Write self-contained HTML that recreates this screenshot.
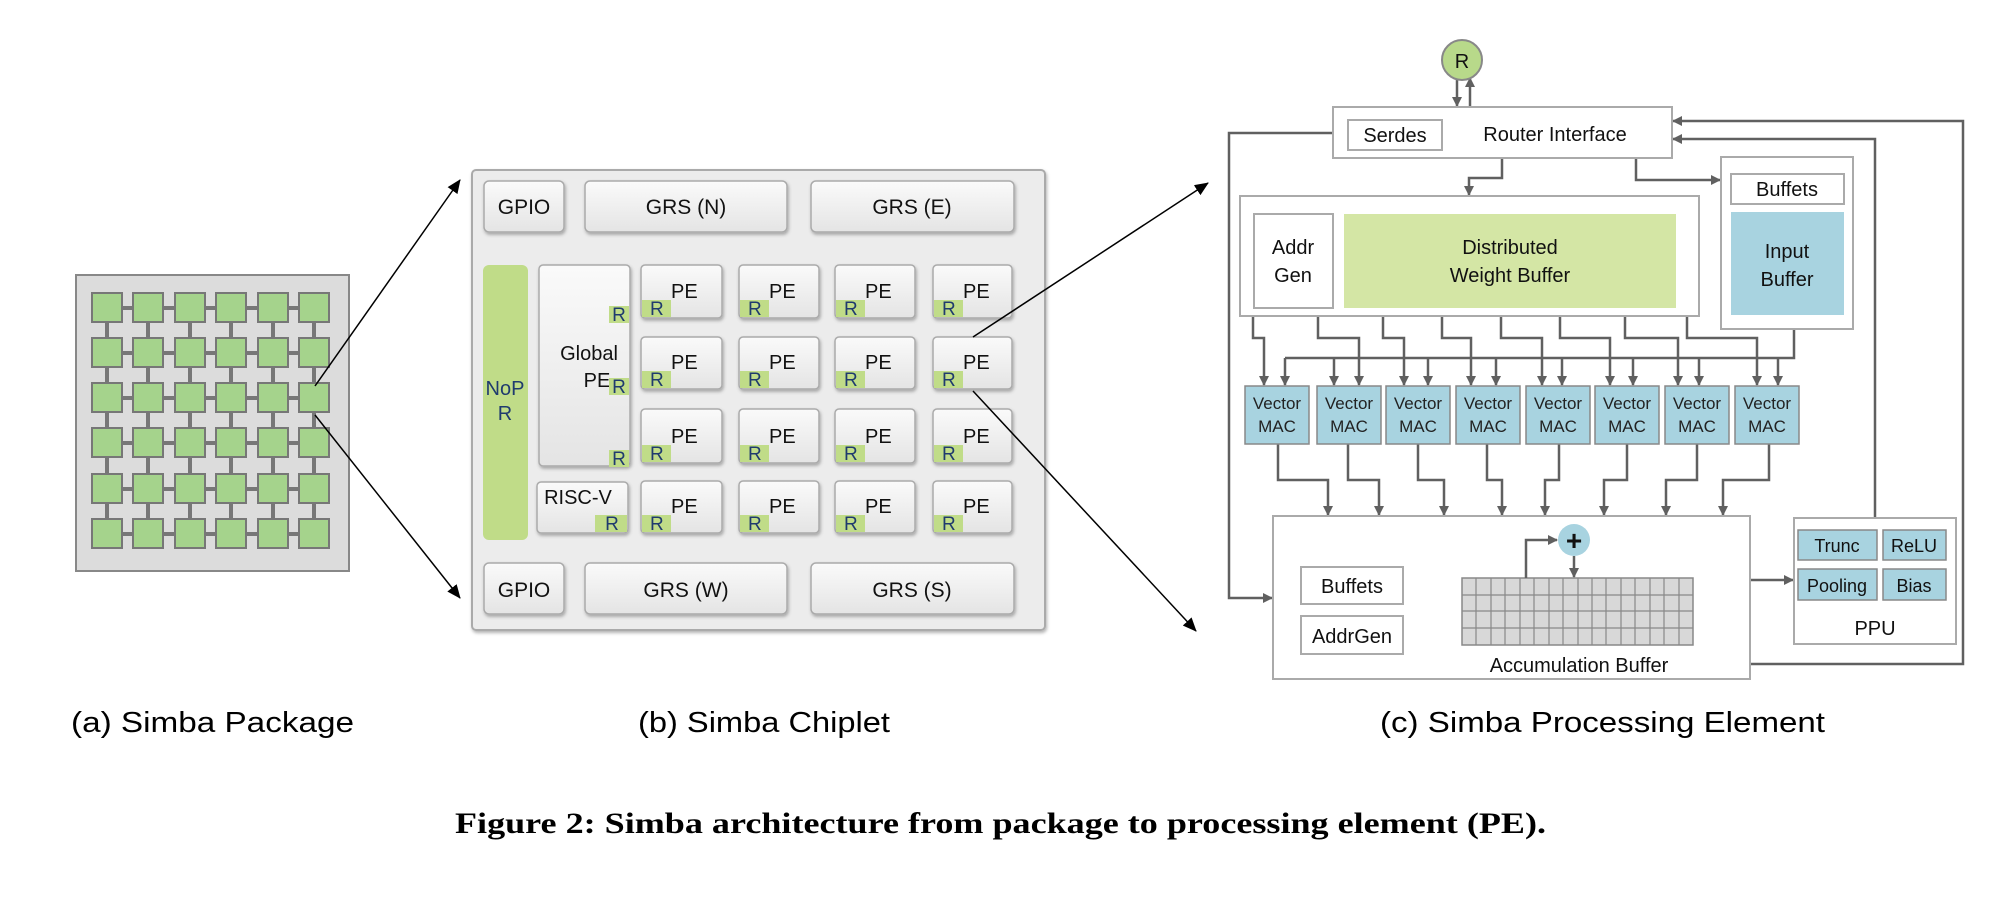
<!DOCTYPE html>
<html><head><meta charset="utf-8"><style>
html,body{margin:0;padding:0;background:#fff;width:2010px;height:900px;overflow:hidden}
svg{display:block}
text{font-family:"Liberation Sans",sans-serif}
</style></head><body>
<svg width="2010" height="900" viewBox="0 0 2010 900" xmlns="http://www.w3.org/2000/svg">
<defs>
<marker id="a" markerWidth="10" markerHeight="10" refX="9" refY="5" orient="auto" markerUnits="userSpaceOnUse"><path d="M0,0 L10,5 L0,10 z" fill="#606060"/></marker>
<marker id="b" markerWidth="14" markerHeight="12" refX="13" refY="6" orient="auto" markerUnits="userSpaceOnUse"><path d="M0,0 L14,6 L0,12 z" fill="#000"/></marker>
<linearGradient id="g" x1="0" y1="0" x2="0" y2="1"><stop offset="0" stop-color="#fafafa"/><stop offset="1" stop-color="#e4e4e4"/></linearGradient>
<filter id="sh" x="-10%" y="-10%" width="130%" height="140%"><feDropShadow dx="1" dy="2" stdDeviation="1.5" flood-color="#000" flood-opacity="0.3"/></filter>
</defs>

<!-- (a) package -->
<rect x="76" y="275" width="273" height="296" fill="#dcdcdc" stroke="#888" stroke-width="2"/>
<g stroke="#777" stroke-width="4">
<line x1="107" y1="308" x2="107" y2="534"/><line x1="148" y1="308" x2="148" y2="534"/><line x1="190" y1="308" x2="190" y2="534"/><line x1="231" y1="308" x2="231" y2="534"/><line x1="273" y1="308" x2="273" y2="534"/><line x1="314" y1="308" x2="314" y2="534"/>
<line x1="107" y1="308" x2="314" y2="308"/><line x1="107" y1="353" x2="314" y2="353"/><line x1="107" y1="398" x2="314" y2="398"/><line x1="107" y1="443" x2="314" y2="443"/><line x1="107" y1="489" x2="314" y2="489"/><line x1="107" y1="534" x2="314" y2="534"/>
</g>
<g fill="#a5d38c" stroke="#777" stroke-width="2">
<rect x="92" y="293" width="30" height="29"/><rect x="133" y="293" width="30" height="29"/><rect x="175" y="293" width="30" height="29"/><rect x="216" y="293" width="30" height="29"/><rect x="258" y="293" width="30" height="29"/><rect x="299" y="293" width="30" height="29"/>
<rect x="92" y="338" width="30" height="29"/><rect x="133" y="338" width="30" height="29"/><rect x="175" y="338" width="30" height="29"/><rect x="216" y="338" width="30" height="29"/><rect x="258" y="338" width="30" height="29"/><rect x="299" y="338" width="30" height="29"/>
<rect x="92" y="383" width="30" height="29"/><rect x="133" y="383" width="30" height="29"/><rect x="175" y="383" width="30" height="29"/><rect x="216" y="383" width="30" height="29"/><rect x="258" y="383" width="30" height="29"/><rect x="299" y="383" width="30" height="29"/>
<rect x="92" y="428" width="30" height="29"/><rect x="133" y="428" width="30" height="29"/><rect x="175" y="428" width="30" height="29"/><rect x="216" y="428" width="30" height="29"/><rect x="258" y="428" width="30" height="29"/><rect x="299" y="428" width="30" height="29"/>
<rect x="92" y="474" width="30" height="29"/><rect x="133" y="474" width="30" height="29"/><rect x="175" y="474" width="30" height="29"/><rect x="216" y="474" width="30" height="29"/><rect x="258" y="474" width="30" height="29"/><rect x="299" y="474" width="30" height="29"/>
<rect x="92" y="519" width="30" height="29"/><rect x="133" y="519" width="30" height="29"/><rect x="175" y="519" width="30" height="29"/><rect x="216" y="519" width="30" height="29"/><rect x="258" y="519" width="30" height="29"/><rect x="299" y="519" width="30" height="29"/>
</g>
<line x1="315" y1="386" x2="460" y2="180" stroke="#000" stroke-width="1.5" marker-end="url(#b)"/>
<line x1="315" y1="415" x2="460" y2="598" stroke="#000" stroke-width="1.5" marker-end="url(#b)"/>

<!-- (b) chiplet -->
<rect x="472" y="170" width="573" height="460" rx="4" fill="#ececec" stroke="#aaa" stroke-width="2" filter="url(#sh)"/>
<g fill="url(#g)" stroke="#aaa" stroke-width="1.5" filter="url(#sh)">
<rect x="484" y="181" width="80" height="51" rx="5"/><rect x="585" y="181" width="202" height="51" rx="5"/><rect x="811" y="181" width="203" height="51" rx="5"/>
<rect x="484" y="563" width="80" height="51" rx="5"/><rect x="585" y="563" width="202" height="51" rx="5"/><rect x="811" y="563" width="203" height="51" rx="5"/>
<rect x="539" y="265" width="91" height="201" rx="4"/><rect x="537" y="482" width="91" height="51" rx="4"/>
</g>
<g font-size="21" text-anchor="middle" fill="#111">
<text x="524" y="214">GPIO</text><text x="686" y="214">GRS (N)</text><text x="912" y="214">GRS (E)</text>
<text x="524" y="597">GPIO</text><text x="686" y="597">GRS (W)</text><text x="912" y="597">GRS (S)</text>
</g>
<rect x="483" y="265" width="45" height="275" rx="6" fill="#c0dc88"/>
<text x="505" y="395" font-size="20" text-anchor="middle" fill="#1f3b6e">NoP</text>
<text x="505" y="420" font-size="20" text-anchor="middle" fill="#1f3b6e">R</text>
<text x="589" y="360" font-size="20" text-anchor="middle" fill="#111">Global</text>
<text x="597" y="387" font-size="20" text-anchor="middle" fill="#111">PE</text>
<text x="578" y="504" font-size="20" text-anchor="middle" fill="#111">RISC-V</text>
<g fill="#c0dc88"><rect x="609" y="306" width="20" height="17"/><rect x="609" y="378" width="20" height="17"/><rect x="609" y="450" width="20" height="17"/><rect x="595" y="515" width="32" height="17"/></g>
<g font-size="19" fill="#1f3b6e" text-anchor="middle"><text x="619" y="321">R</text><text x="619" y="393">R</text><text x="619" y="465">R</text><text x="612" y="530">R</text></g>
<g id="pes">
<g fill="url(#g)" stroke="#aaa" stroke-width="1.5" filter="url(#sh)">
<rect x="641" y="265" width="81" height="53" rx="4"/><rect x="739" y="265" width="80" height="53" rx="4"/><rect x="835" y="265" width="80" height="53" rx="4"/><rect x="933" y="265" width="79" height="53" rx="4"/>
<rect x="641" y="337" width="81" height="52" rx="4"/><rect x="739" y="337" width="80" height="52" rx="4"/><rect x="835" y="337" width="80" height="52" rx="4"/><rect x="933" y="337" width="79" height="52" rx="4"/>
<rect x="641" y="409" width="81" height="54" rx="4"/><rect x="739" y="409" width="80" height="54" rx="4"/><rect x="835" y="409" width="80" height="54" rx="4"/><rect x="933" y="409" width="79" height="54" rx="4"/>
<rect x="641" y="481" width="81" height="52" rx="4"/><rect x="739" y="481" width="80" height="52" rx="4"/><rect x="835" y="481" width="80" height="52" rx="4"/><rect x="933" y="481" width="79" height="52" rx="4"/>
</g>
<g fill="#c0dc88">
<rect x="642" y="300" width="29" height="17"/><rect x="740" y="300" width="29" height="17"/><rect x="836" y="300" width="29" height="17"/><rect x="934" y="300" width="29" height="17"/>
<rect x="642" y="371" width="29" height="17"/><rect x="740" y="371" width="29" height="17"/><rect x="836" y="371" width="29" height="17"/><rect x="934" y="371" width="29" height="17"/>
<rect x="642" y="445" width="29" height="17"/><rect x="740" y="445" width="29" height="17"/><rect x="836" y="445" width="29" height="17"/><rect x="934" y="445" width="29" height="17"/>
<rect x="642" y="515" width="29" height="17"/><rect x="740" y="515" width="29" height="17"/><rect x="836" y="515" width="29" height="17"/><rect x="934" y="515" width="29" height="17"/>
</g>
<g font-size="19" fill="#1f3b6e">
<text x="650" y="315">R</text><text x="748" y="315">R</text><text x="844" y="315">R</text><text x="942" y="315">R</text>
<text x="650" y="386">R</text><text x="748" y="386">R</text><text x="844" y="386">R</text><text x="942" y="386">R</text>
<text x="650" y="460">R</text><text x="748" y="460">R</text><text x="844" y="460">R</text><text x="942" y="460">R</text>
<text x="650" y="530">R</text><text x="748" y="530">R</text><text x="844" y="530">R</text><text x="942" y="530">R</text>
</g>
<g font-size="20" fill="#111">
<text x="671" y="298">PE</text><text x="769" y="298">PE</text><text x="865" y="298">PE</text><text x="963" y="298">PE</text>
<text x="671" y="369">PE</text><text x="769" y="369">PE</text><text x="865" y="369">PE</text><text x="963" y="369">PE</text>
<text x="671" y="443">PE</text><text x="769" y="443">PE</text><text x="865" y="443">PE</text><text x="963" y="443">PE</text>
<text x="671" y="513">PE</text><text x="769" y="513">PE</text><text x="865" y="513">PE</text><text x="963" y="513">PE</text>
</g>
</g>
<line x1="973" y1="337" x2="1208" y2="183" stroke="#000" stroke-width="1.5" marker-end="url(#b)"/>
<line x1="973" y1="391" x2="1196" y2="631" stroke="#000" stroke-width="1.5" marker-end="url(#b)"/>

<!-- (c) PE -->
<g stroke="#606060" stroke-width="2.5" fill="none">
<line x1="1457" y1="80" x2="1457" y2="106" marker-end="url(#a)"/>
<line x1="1470" y1="107" x2="1470" y2="78" marker-end="url(#a)"/>
<polyline points="1333,133 1229,133 1229,598 1272,598" marker-end="url(#a)"/>
<polyline points="1750,664 1963,664 1963,121 1673,121" marker-end="url(#a)"/>
<polyline points="1875,518 1875,139 1673,139" marker-end="url(#a)"/>
<polyline points="1502,158 1502,178 1469,178 1469,195" marker-end="url(#a)"/>
<polyline points="1636,158 1636,180 1720,180" marker-end="url(#a)"/>
<polyline points="1253,316 1253,338 1264,338 1264,385" marker-end="url(#a)"/>
<polyline points="1318,316 1318,338 1359,338 1359,385" marker-end="url(#a)"/>
<polyline points="1383,316 1383,338 1404,338 1404,385" marker-end="url(#a)"/>
<polyline points="1442,316 1442,338 1471,338 1471,385" marker-end="url(#a)"/>
<polyline points="1501,316 1501,338 1542,338 1542,385" marker-end="url(#a)"/>
<polyline points="1560,316 1560,338 1610,338 1610,385" marker-end="url(#a)"/>
<polyline points="1625,316 1625,338 1678,338 1678,385" marker-end="url(#a)"/>
<polyline points="1687,316 1687,338 1757,338 1757,385" marker-end="url(#a)"/>
<polyline points="1794,329 1794,358 1285,358"/>
<line x1="1285" y1="358" x2="1285" y2="385" marker-end="url(#a)"/>
<line x1="1334" y1="358" x2="1334" y2="385" marker-end="url(#a)"/>
<line x1="1428" y1="358" x2="1428" y2="385" marker-end="url(#a)"/>
<line x1="1496" y1="358" x2="1496" y2="385" marker-end="url(#a)"/>
<line x1="1562" y1="358" x2="1562" y2="385" marker-end="url(#a)"/>
<line x1="1633" y1="358" x2="1633" y2="385" marker-end="url(#a)"/>
<line x1="1699" y1="358" x2="1699" y2="385" marker-end="url(#a)"/>
<line x1="1778" y1="358" x2="1778" y2="385" marker-end="url(#a)"/>
<polyline points="1278,444 1278,480 1328,480 1328,515" marker-end="url(#a)"/>
<polyline points="1348,444 1348,480 1379,480 1379,515" marker-end="url(#a)"/>
<polyline points="1418,444 1418,480 1444,480 1444,515" marker-end="url(#a)"/>
<polyline points="1487,444 1487,480 1502,480 1502,515" marker-end="url(#a)"/>
<polyline points="1559,444 1559,480 1545,480 1545,515" marker-end="url(#a)"/>
<polyline points="1627,444 1627,480 1604,480 1604,515" marker-end="url(#a)"/>
<polyline points="1697,444 1697,480 1666,480 1666,515" marker-end="url(#a)"/>
<polyline points="1769,444 1769,480 1723,480 1723,515" marker-end="url(#a)"/>
<line x1="1750" y1="580" x2="1793" y2="580" marker-end="url(#a)"/>
</g>
<circle cx="1462" cy="60" r="20" fill="#b8d98a" stroke="#888" stroke-width="2"/>
<text x="1462" y="68" font-size="20" text-anchor="middle" fill="#111">R</text>

<g fill="#fff" stroke="#aaa" stroke-width="2">
<rect x="1333" y="107" width="339" height="51"/>
<rect x="1348" y="120" width="94" height="30"/>
<rect x="1240" y="196" width="459" height="120"/>
<rect x="1254" y="214" width="79" height="94"/>
<rect x="1721" y="157" width="132" height="172"/>
<rect x="1731" y="174" width="113" height="30"/>
<rect x="1273" y="516" width="477" height="163"/>
<rect x="1301" y="567" width="102" height="37"/>
<rect x="1301" y="616" width="102" height="38"/>
<rect x="1794" y="518" width="162" height="126"/>
</g>
<rect x="1344" y="214" width="332" height="94" fill="#d4e6a5"/>
<rect x="1731" y="212" width="113" height="103" fill="#a8d3e0"/>
<g fill="#a8d3e0" stroke="#888" stroke-width="1.5">
<rect x="1245" y="386" width="64" height="58"/><rect x="1317" y="386" width="64" height="58"/><rect x="1386" y="386" width="64" height="58"/><rect x="1456" y="386" width="64" height="58"/>
<rect x="1526" y="386" width="64" height="58"/><rect x="1595" y="386" width="64" height="58"/><rect x="1665" y="386" width="64" height="58"/><rect x="1735" y="386" width="64" height="58"/>
<rect x="1798" y="530" width="79" height="30"/><rect x="1883" y="530" width="63" height="30"/>
<rect x="1798" y="569" width="79" height="31"/><rect x="1883" y="569" width="63" height="31"/>
</g>
<g font-size="17" text-anchor="middle" fill="#222">
<text x="1277" y="409">Vector</text><text x="1277" y="432">MAC</text>
<text x="1349" y="409">Vector</text><text x="1349" y="432">MAC</text>
<text x="1418" y="409">Vector</text><text x="1418" y="432">MAC</text>
<text x="1488" y="409">Vector</text><text x="1488" y="432">MAC</text>
<text x="1558" y="409">Vector</text><text x="1558" y="432">MAC</text>
<text x="1627" y="409">Vector</text><text x="1627" y="432">MAC</text>
<text x="1697" y="409">Vector</text><text x="1697" y="432">MAC</text>
<text x="1767" y="409">Vector</text><text x="1767" y="432">MAC</text>
</g>
<g font-size="20" text-anchor="middle" fill="#111">
<text x="1395" y="142">Serdes</text>
<text x="1555" y="141">Router Interface</text>
<text x="1293" y="254">Addr</text><text x="1293" y="282">Gen</text>
<text x="1510" y="254">Distributed</text><text x="1510" y="282">Weight Buffer</text>
<text x="1787" y="196">Buffets</text>
<text x="1787" y="258">Input</text><text x="1787" y="286">Buffer</text>
<text x="1352" y="593">Buffets</text>
<text x="1352" y="643">AddrGen</text>
<text x="1579" y="672">Accumulation Buffer</text>
<text x="1875" y="635">PPU</text>
</g>
<g font-size="18" text-anchor="middle" fill="#111">
<text x="1837" y="552">Trunc</text><text x="1914" y="552">ReLU</text>
<text x="1837" y="592">Pooling</text><text x="1914" y="592">Bias</text>
</g>
<rect x="1462" y="578" width="231" height="67" fill="#d8d8d8" stroke="#888" stroke-width="1.5"/>
<g stroke="#888" stroke-width="1.2">
<line x1="1462" y1="595" x2="1693" y2="595"/><line x1="1462" y1="611" x2="1693" y2="611"/><line x1="1462" y1="628" x2="1693" y2="628"/>
<line x1="1476" y1="578" x2="1476" y2="645"/><line x1="1491" y1="578" x2="1491" y2="645"/><line x1="1505" y1="578" x2="1505" y2="645"/><line x1="1520" y1="578" x2="1520" y2="645"/><line x1="1534" y1="578" x2="1534" y2="645"/><line x1="1549" y1="578" x2="1549" y2="645"/><line x1="1563" y1="578" x2="1563" y2="645"/><line x1="1578" y1="578" x2="1578" y2="645"/><line x1="1592" y1="578" x2="1592" y2="645"/><line x1="1606" y1="578" x2="1606" y2="645"/><line x1="1621" y1="578" x2="1621" y2="645"/><line x1="1635" y1="578" x2="1635" y2="645"/><line x1="1650" y1="578" x2="1650" y2="645"/><line x1="1664" y1="578" x2="1664" y2="645"/><line x1="1679" y1="578" x2="1679" y2="645"/>
</g>
<g stroke="#606060" stroke-width="2.5" fill="none">
<polyline points="1526,578 1526,540 1557,540" marker-end="url(#a)"/>
<line x1="1574" y1="556" x2="1574" y2="577" marker-end="url(#a)"/>
</g>
<circle cx="1574" cy="540" r="16" fill="#a8d3e0"/>
<text x="1574" y="550" font-size="28" font-weight="bold" text-anchor="middle" fill="#111">+</text>

<g font-size="29" fill="#000">
<text x="71" y="732" textLength="283" lengthAdjust="spacingAndGlyphs">(a) Simba Package</text>
<text x="638" y="732" textLength="252" lengthAdjust="spacingAndGlyphs">(b) Simba Chiplet</text>
<text x="1380" y="732" textLength="445" lengthAdjust="spacingAndGlyphs">(c) Simba Processing Element</text>
</g>
<text x="455" y="833" style="font-family:'Liberation Serif',serif" font-size="30" font-weight="bold" textLength="1091" lengthAdjust="spacingAndGlyphs" fill="#000">Figure 2: Simba architecture from package to processing element (PE).</text>
</svg>
</body></html>
